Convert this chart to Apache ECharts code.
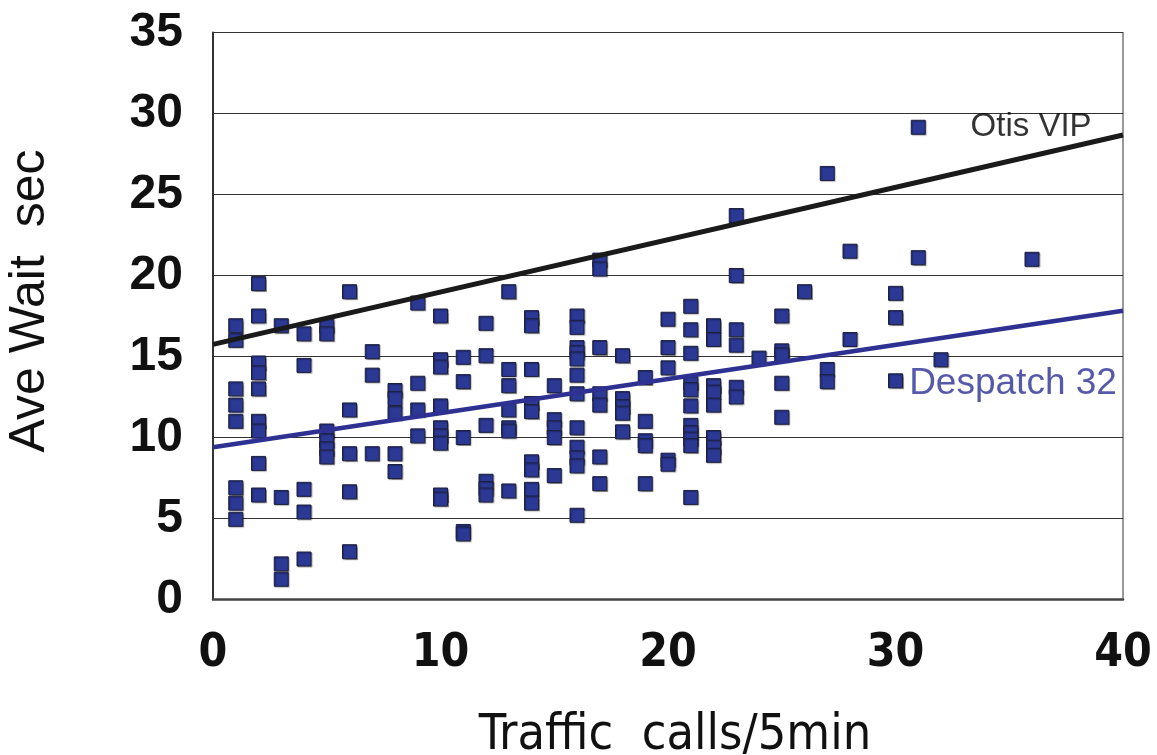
<!DOCTYPE html>
<html>
<head>
<meta charset="utf-8">
<script src="https://cdn.jsdelivr.net/npm/echarts@6/dist/echarts.min.js"></script>
<style>
html,body{margin:0;padding:0;background:#fff;}
#chart{width:1157px;height:755px;}
</style>
</head>
<body>
<div id="chart"></div>
<script>
// Traffic (calls / 5 min) columns and the average waits observed at each
const trafficValues = [1,2,3,4,5,6,7,8,9,10,11,12,13,14,15,16,17,18,19,20,21,22,23,24,25,26,27,28,30,31,32,36];
const waitValues = [
  [16.9,16.0,13.0,12.0,11.0,6.9,5.95,4.95],
  [19.5,17.5,14.6,14.0,13.0,11.0,10.4,8.4,6.45],
  [16.9,6.3,2.2,1.25],
  [16.4,14.45,6.8,5.4,2.5],
  [16.9,16.4,10.4,9.8,9.3,8.8],
  [19.0,11.7,9.0,6.65,2.95],
  [15.3,13.85,9.0],
  [12.9,12.4,11.5,9.0,7.9],
  [18.3,13.35,11.7,10.1],
  [17.5,14.8,14.35,11.95,10.6,10.1,9.65,6.45,6.2],
  [14.95,13.45,10.0,4.2,4.05],
  [17.05,15.05,10.75,7.3,6.85,6.45],
  [19.0,14.2,13.2,11.7,10.6,10.4,6.7],
  [17.4,16.9,14.2,12.1,11.6,8.5,8.0,6.8,5.95],
  [13.2,11.1,10.6,10.0,7.65],
  [17.5,16.8,15.55,15.25,14.85,13.85,12.7,10.6,9.4,8.75,8.25,5.2],
  [20.95,20.4,15.55,12.7,12.0,8.8,7.15],
  [15.05,12.4,11.9,11.5,10.35],
  [13.7,11.0,9.8,9.5,7.15],
  [17.3,15.55,14.3,8.6,8.35],
  [18.1,16.65,15.2,13.35,12.95,11.95,10.75,10.3,9.9,9.5,6.3],
  [16.9,16.05,13.2,12.8,12.0,10.0,9.4,8.9],
  [23.7,20.0,16.65,15.7,13.1,12.5],
  [14.9],
  [17.5,15.35,15.1,13.35,11.25],
  [19.0],
  [26.3,14.2,13.45],
  [21.5,16.05],
  [18.9,17.4,13.5],
  [29.15,21.1],
  [14.8],
  [21.0]
];
// Trend lines (start and end values over x = 0..40)
const otisTrendX = [0, 40];
const otisTrendY = [15.75, 28.67];
const despatchTrendX = [0, 40];
const despatchTrendY = [9.4, 17.83];
// Annotation labels
const labelNames = ['Otis VIP', 'Despatch 32'];
const labelX = [33.3, 30.6];
const labelY = [29.15, 13.3];
// Axis ticks
const xTicks = [0, 10, 20, 30, 40];
const yTicks = [0, 5, 10, 15, 20, 25, 30, 35];

const points = [];
trafficValues.forEach((x, i) => waitValues[i].forEach(y => points.push([x, y])));

const narrow = '"Liberation Sans Narrow", "DejaVu Sans Condensed", "Arial Narrow", "Liberation Sans", sans-serif';
const chart = echarts.init(document.getElementById('chart'), null, {renderer: 'canvas'});
const blue = '#2B3894';
chart.setOption({
  animation: false,
  backgroundColor: '#ffffff',
  grid: {left: 213, right: 34, top: 32.5, bottom: 155.5, outerBoundsMode: 'none', containLabel: false,
    show: true, borderColor: '#555', borderWidth: 1.2, backgroundColor: 'transparent'},
  xAxis: {
    type: 'value', min: xTicks[0], max: xTicks[xTicks.length - 1], interval: 10,
    name: 'Traffic  calls/5min', nameLocation: 'middle', nameGap: 112,
    nameTextStyle: {fontFamily: narrow, fontSize: 50, color: '#111', padding: [0, 0, 0, 14]},
    axisLine: {show: true, lineStyle: {color: '#444', width: 2.5}},
    axisTick: {show: false},
    splitLine: {show: false},
    axisLabel: {margin: 32, fontFamily: narrow, fontWeight: 'bold', fontSize: 46, color: '#111'}
  },
  yAxis: {
    type: 'value', min: yTicks[0], max: yTicks[yTicks.length - 1], interval: 5,
    name: 'Ave Wait  sec', nameLocation: 'middle', nameGap: 158,
    nameTextStyle: {fontFamily: 'Liberation Sans', fontSize: 50, color: '#111', padding: [0, 0, 0, 30]},
    axisLine: {show: true, lineStyle: {color: '#333', width: 2}},
    axisTick: {show: false},
    splitLine: {show: true, lineStyle: {color: '#333', width: 1}},
    axisLabel: {margin: 30, fontFamily: 'Liberation Sans', fontWeight: 'bold', fontSize: 48, color: '#111'}
  },
  series: [
    {
      type: 'scatter', symbol: 'rect', symbolSize: 14, z: 3,
      itemStyle: {color: blue, opacity: 1, borderColor: '#1c1f3d', borderWidth: 1, shadowColor: 'rgba(0,0,0,0.3)', shadowBlur: 1, shadowOffsetX: 1, shadowOffsetY: 1},
      data: points
    },
    {
      type: 'line', symbol: 'none', z: 4, silent: true,
      lineStyle: {color: '#1a1a1a', width: 5},
      data: otisTrendX.map((x, i) => [x, otisTrendY[i]])
    },
    {
      type: 'line', symbol: 'none', z: 4, silent: true,
      lineStyle: {color: '#2E3192', width: 4.5},
      data: despatchTrendX.map((x, i) => [x, despatchTrendY[i]])
    },
    {
      type: 'scatter', symbolSize: 0, z: 5, silent: true,
      data: labelNames.map((n, i) => ({
        value: [labelX[i], labelY[i]], name: n,
        label: {show: true, position: 'right', distance: 0, formatter: n,
          fontFamily: 'Liberation Sans', fontSize: i === 0 ? 33 : 37,
          color: i === 0 ? '#000' : '#2B2F95'}
      }))
    }
  ]
});
</script>
</body>
</html>
